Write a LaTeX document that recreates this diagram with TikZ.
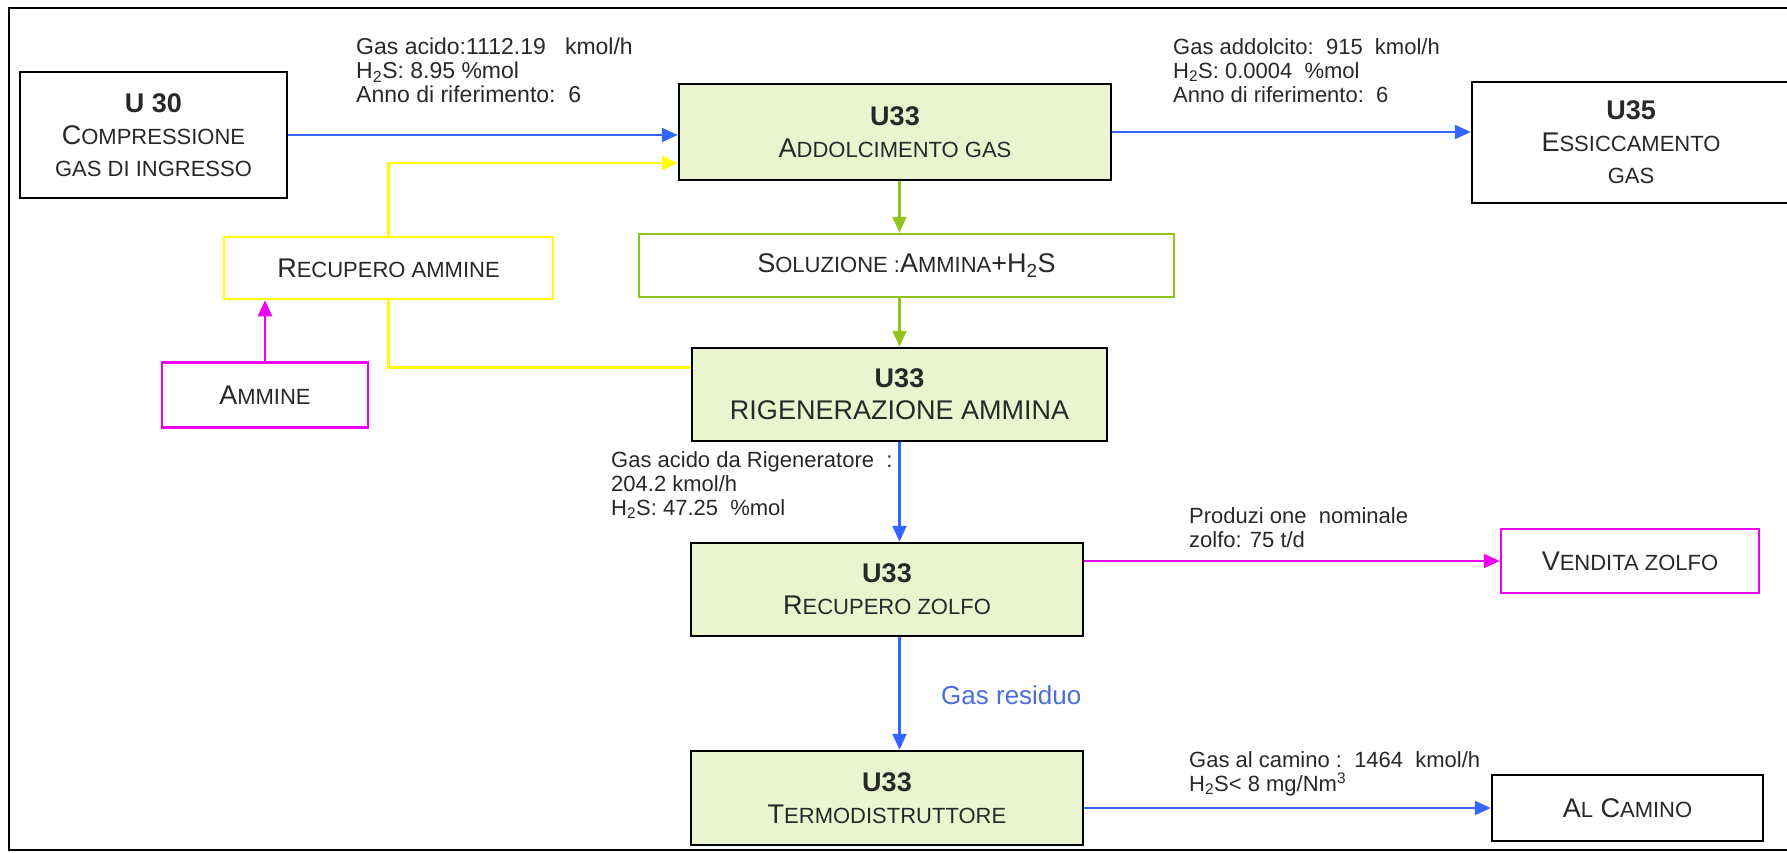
\documentclass[tikz,border=0pt]{standalone}
\usepackage{fontspec}
\setmainfont{Liberation Sans}
\usepackage{xcolor}
\definecolor{ColBlue}{RGB}{51,102,255}
\definecolor{ColYel}{RGB}{255,255,0}
\definecolor{ColGreen}{RGB}{146,196,30}
\definecolor{ColMag}{RGB}{240,0,240}
\definecolor{ColFill}{RGB}{234,245,208}
\definecolor{ColText}{RGB}{40,40,40}
\definecolor{ColRes}{RGB}{77,110,222}
\usepackage{tikz}
\usetikzlibrary{arrows.meta}
\newcommand{\Sm}[1]{{\fontsize{22}{32}\selectfont #1}}
\newcommand{\Ut}[1]{\textbf{#1}}
\tikzstyle{Unit}=[draw=black,line width=2.5pt,fill=ColFill,align=center,
text=ColText,font=\fontsize{27}{32}\selectfont,inner sep=0pt]
\tikzstyle{Plain}=[Unit,fill=white]
\tikzstyle{Flow}=[line width=2.5pt,-{Triangle[length=16pt,width=14pt]}]
\tikzstyle{Note}=[anchor=north west,align=left,text=ColText,
font=\fontsize{22}{24}\selectfont,inner sep=0pt]

\begin{document}
\begin{tikzpicture}[x=1pt,y=-1pt]
        \useasboundingbox(0,0)rectangle(1787,853);
        \clip(0,0)rectangle(1787,853);
        \draw[line width=2pt](9,8)rectangle(1800,850);
        % units
        \node[Plain,minimum width=267pt,minimum height=126pt](u30)at(153.5,135)
            {\Ut{U 30}\\C\Sm{OMPRESSIONE}\\\Sm{GAS DI INGRESSO}};
        \node[Unit,minimum width=432pt,minimum height=96pt](addolc)at(895,132)
            {\Ut{U33}\\A\Sm{DDOLCIMENTO GAS}};
        \node[Plain,minimum width=318pt,minimum height=121pt](essicc)at(1631,142.5)
            {\Ut{U35}\\E\Sm{SSICCAMENTO}\\\Sm{GAS}};
        \node[Plain,draw=ColYel,minimum width=329pt,minimum height=62pt](recam)
            at(388.5,268){R\Sm{ECUPERO AMMINE}};
        \node[Plain,draw=ColGreen,minimum width=535pt,minimum height=63pt](soluz)
            at(906.5,265.5){S\Sm{OLUZIONE :}A\Sm{MMINA}+H\textsubscript{2}S};
        \node[Unit,minimum width=415pt,minimum height=93pt](rigen)at(899.5,394.5)
            {\Ut{U33}\\RIGENERAZIONE AMMINA};
        \node[Plain,draw=ColMag,minimum width=206pt,minimum height=65pt](ammine)
            at(265,395){A\Sm{MMINE}};
        \node[Unit,minimum width=392pt,minimum height=93pt](reczol)at(887,589.5)
            {\Ut{U33}\\R\Sm{ECUPERO ZOLFO}};
        \node[Unit,minimum width=392pt,minimum height=94pt](termo)at(887,798)
            {\Ut{U33}\\T\Sm{ERMODISTRUTTORE}};
        \node[Plain,draw=ColMag,minimum width=258pt,minimum height=64pt](vendita)
            at(1630,561){V\Sm{ENDITA ZOLFO}};
        \node[Plain,minimum width=271pt,minimum height=66pt](camino)
            at(1627.5,808){A\Sm{L} C\Sm{AMINO}};
        % flows
        \draw[Flow,ColBlue](u30.east)--(u30.east-|addolc.west);
        \draw[Flow,ColYel](recam.north)|-([yshift=-31pt]addolc.west);
        \draw[ColYel,line width=2.5pt]([yshift=27pt]rigen.west)-|(recam.south);
        \draw[Flow,ColMag](ammine.north)--(ammine.north|-recam.south);
        \draw[Flow,ColGreen](rigen.north|-addolc.south)--(rigen.north|-soluz.north);
        \draw[Flow,ColGreen](rigen.north|-soluz.south)--(rigen.north);
        \draw[Flow,ColBlue](addolc.east)--(addolc.east-|essicc.west);
        \draw[Flow,ColBlue](rigen.south)--(rigen.south|-reczol.north);
        \draw[Flow,ColBlue](rigen.south|-reczol.south)--(rigen.south|-termo.north);
        \draw[Flow,ColMag](vendita.west-|reczol.east)--(vendita.west);
        \draw[Flow,ColBlue](camino.west-|termo.east)--(camino.west);
        % notes
        \node[Note,font=\fontsize{23}{24}\selectfont](nIn)at(356,38)
            {Gas acido:1112.19\ \ \ kmol/h\\H\textsubscript{2}S: 8.95 \%mol\\Anno di riferimento:\ \ 6};
        \node[Note](nOut)at(1173,38)
            {Gas addolcito:\ \ 915\ \ kmol/h\\H\textsubscript{2}S: 0.0004\ \ \%mol\\Anno di riferimento:\ \ 6};
        \node[Note](nRig)at(611,451)
            {Gas acido da Rigeneratore\ \ :\\204.2 kmol/h\\H\textsubscript{2}S: 47.25\ \ \%mol};
        \node[Note](nZol)at(1189,507){Produzi one\ \ nominale\\zolfo: 75 t/d};
        \node[Note](nCam)at(1189,751)
            {Gas al camino :\ \ 1464\ \ kmol/h\\H\textsubscript{2}S< 8 mg/Nm\textsuperscript{3}};
        \node[anchor=west,inner sep=0pt,text=ColRes,font=\fontsize{26}{28}\selectfont]
            (nRes)at(941,695){Gas residuo};
    \end{tikzpicture}
\end{document}
